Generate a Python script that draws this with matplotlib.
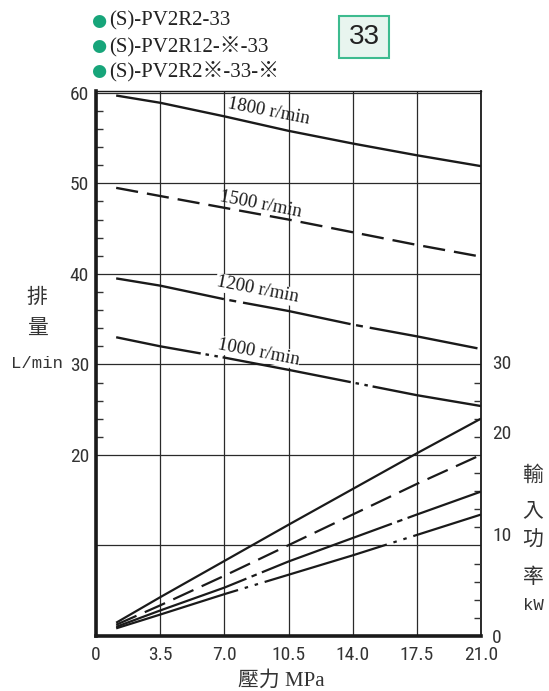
import matplotlib
matplotlib.use("Agg")
import matplotlib.pyplot as plt
import matplotlib.patches as patches
from matplotlib.ticker import FixedLocator, FixedFormatter
import numpy as np

plt.rcParams["lines.scale_dashes"] = False

# data
pressure = [1.1, 3.5, 7.0, 10.5, 14.0, 17.5, 21.0]          # MPa
flow_1800 = [59.7, 58.9, 57.4, 55.8, 54.4, 53.1, 51.9]       # L/min
flow_1500 = [49.5, 48.6, 47.3, 46.0, 44.6, 43.2, 41.9]
flow_1200 = [39.5, 38.7, 37.2, 35.9, 34.4, 33.1, 31.7]
flow_1000 = [33.0, 32.0, 30.75, 29.4, 28.0, 26.6, 25.4]
power_1800 = [1.3, 3.8, 7.35, 10.9, 14.4, 17.9, 21.3]        # kW
power_1500 = [1.1, 3.0, 5.9, 8.9, 11.9, 14.9, 17.75]
power_1200 = [0.9, 2.5, 4.74, 7.3, 9.6, 11.9, 14.15]
power_1000 = [0.75, 2.1, 4.1, 6.0, 7.9, 9.9, 11.9]
speed_labels = ["1800 r/min", "1500 r/min", "1200 r/min", "1000 r/min"]
models = ["(S)-PV2R2-33", "(S)-PV2R12-※-33", "(S)-PV2R2※-33-※"]
x_ticks = [0, 3.5, 7.0, 10.5, 14.0, 17.5, 21.0]
x_ticklabels = ["0", "3.5", "7.0", "10.5", "14.0", "17.5", "21.0"]

W, H = 549, 691
fig = plt.figure(figsize=(W / 100, H / 100), dpi=100)
ax = fig.add_axes([96 / W, 1 - 636 / H, 385 / W, 545 / H])

ink = "#1a1a1a"
narrow = ["Liberation Sans Narrow", "Roboto Condensed", "DejaVu Sans"]
serif = ["Liberation Serif", "Noto Sans CJK TC"]
cjk = ["Noto Sans CJK TC", "DejaVu Sans"]
mono = ["Liberation Mono", "DejaVu Sans Mono"]

styles = [
    "-",
    (0, (16, 6.5)),
    (0, (79, 4, 5, 5)),
    (32, (94, 3.5, 2.5, 4, 2.5, 3.5)),
]
power_styles = [
    "-",
    (0, (16, 6.5)),
    (0, (100, 4, 4, 4)),
    (0, (92, 5, 2.5, 5, 2.5, 5)),
]
flows = [flow_1800, flow_1500, flow_1200, flow_1000]
powers = [power_1800, power_1500, power_1200, power_1000]

for f, ls in zip(flows, styles):
    ax.plot(pressure, f, color=ink, lw=1.7, linestyle=ls, solid_capstyle="butt",
            dash_capstyle="butt", zorder=3)

# speed labels along the flow lines
label_x = [9.4, 9.0, 8.8, 8.85]
label_dy = [1.6, 1.1, 1.7, 1.3]
for f, txt, lx, dy, i in zip(flows, speed_labels, label_x, label_dy, range(4)):
    ly = np.interp(lx, pressure, f) + dy
    bbox = dict(facecolor="white", edgecolor="none", pad=0.5) if i >= 2 else None
    ax.text(lx, ly, txt, rotation=-11, rotation_mode="anchor", ha="center", va="center",
            fontsize=13.5, family=serif, color=ink, bbox=bbox, zorder=4)

ax.set_xlim(0, 21)
ax.set_ylim(0, 60.2)

# grid
ax.xaxis.set_major_locator(FixedLocator(x_ticks))
ax.xaxis.set_major_formatter(FixedFormatter(x_ticklabels))
ax.yaxis.set_major_locator(FixedLocator([0, 10, 20, 30, 40, 50, 60]))
ax.yaxis.set_major_formatter(FixedFormatter(["", "", "20", "30", "40", "50", "60"]))
ax.yaxis.set_minor_locator(FixedLocator([v for v in range(22, 60, 2) if v % 10]))
ax.grid(True, which="major", color="#2a2a2a", lw=0.9)
ax.tick_params(axis="x", length=0, pad=7, labelsize=14, colors="#333333")
ax.tick_params(axis="y", which="major", length=0, pad=5, labelsize=14, colors="#333333")
ax.tick_params(axis="y", which="minor", direction="in", length=5, width=1.0, color="#333333")
for lab in ax.get_xticklabels() + ax.get_yticklabels():
    lab.set_family(narrow)
    lab.set_fontstretch("condensed")

for side, lw in [("left", 2.6), ("bottom", 2.6), ("right", 1.3), ("top", 1.0)]:
    ax.spines[side].set_linewidth(lw)
    ax.spines[side].set_color(ink)

# right-side short ticks (0..30 L/min)
ax_t = ax.twinx()
ax_t.set_ylim(ax.get_ylim())
ax_t.yaxis.set_major_locator(FixedLocator([v for v in range(2, 30, 2) if v % 10]))
ax_t.tick_params(axis="y", direction="in", length=5, width=1.0, color="#333333",
                 labelright=False)
for s in ax_t.spines.values():
    s.set_visible(False)

# power axis (kW)
ax_p = ax.twinx()
ax_p.set_ylim(0, 53.4)
for p, ls in zip(powers, power_styles):
    ax_p.plot(pressure, p, color=ink, lw=1.6, linestyle=ls, solid_capstyle="butt",
              dash_capstyle="butt", zorder=3)
ax_p.yaxis.set_major_locator(FixedLocator([0, 10, 20, 26.8]))
ax_p.yaxis.set_major_formatter(FixedFormatter(["0", "10", "20", "30"]))
ax_p.tick_params(axis="y", length=0, pad=8, labelsize=14, colors="#333333")
for lab in ax_p.get_yticklabels():
    lab.set_family(narrow)
    lab.set_fontstretch("condensed")
for s in ax_p.spines.values():
    s.set_visible(False)

# axis titles
fig.text(37 / W, 1 - 297 / H, "排", ha="center", va="center", fontsize=15, family=cjk, color="#333333")
fig.text(37 / W, 1 - 329 / H, "量", ha="center", va="center", fontsize=15, family=cjk, color="#333333")
fig.text(37 / W, 1 - 363 / H, "L/min", ha="center", va="center", fontsize=12.5,
         family=mono, color="#333333")
for t, yy in zip(["輸", "入", "功", "率"], [475, 510, 540, 577]):
    fig.text(533 / W, 1 - yy / H, t, ha="center", va="center", fontsize=15, family=cjk, color="#333333")
fig.text(533 / W, 1 - 606 / H, "kW", ha="center", va="center", fontsize=12.5,
         family=mono, color="#333333")
fig.text(281 / W, 1 - 681 / H, "壓力 MPa", ha="center", va="center", fontsize=15,
         family=serif, color="#333333")

# model list
green = "#17a57a"
for m, yy in zip(models, [21, 46, 71]):
    fig.text(99 / W, 1 - yy / H, "●", ha="center", va="center", fontsize=12.5, color=green)
    fig.text(109 / W, 1 - yy / H, m, ha="left", va="center", fontsize=15, family=serif,
             color="#222222")

# "33" badge
fig.add_artist(patches.Rectangle((339 / W, 1 - 58 / H), 50 / W, 42 / H, transform=fig.transFigure,
                                 facecolor="#e8f5ef", edgecolor="#3dbb8f", lw=1.5))
fig.text(364 / W, 1 - 37 / H, "33", ha="center", va="center", fontsize=20,
         family=["Liberation Sans", "DejaVu Sans"], color="#222222")

fig.savefig("out.png", dpi=100)
